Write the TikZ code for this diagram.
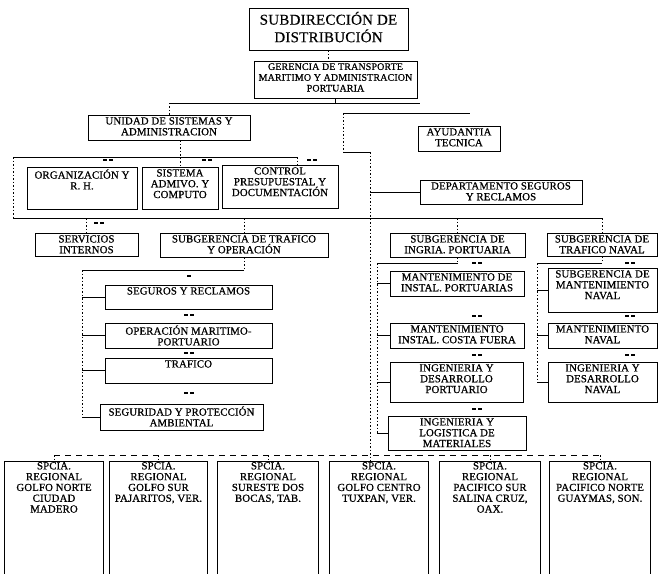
\documentclass[tikz,border=0pt]{standalone}
\usepackage{fontspec}
\setmainfont{Liberation Serif}
\newfontfamily\scanfont{Liberation Serif}[FakeBold=0.7, LetterSpace=1.2]
\newfontfamily\titlefont{Liberation Serif}[FakeBold=0.4, LetterSpace=1.5]
\newcommand\obox[6]{%
  \node[boxsty, minimum width={(#4-#2)*1pt}, minimum height={(#5-#3)*1pt}] (#1) at ({(#2+#4)/2},{(#3+#5)/2}) {};
  \node[txt] (#1-t) at ([yshift=-2.5pt]#1.north) {#6};}
\newcommand\rbox[4]{%
  \node[draw=none, inner sep=0pt, minimum width={(#3-#2)*1pt}, minimum height=120pt, anchor=north] (#1) at ({(#2+#3)/2},461) {};
  \draw[boxline] (#1.south west) -- (#1.north west) -- (#1.north east) -- (#1.south east);
  \node[txt] (#1-t) at ([yshift=-1pt]#1.north) {#4};}
\newcommand\dmk[2]{\draw[dmkline] (#1-5,#2) -- (#1-1,#2) (#1+1,#2) -- (#1+5,#2);}
\newcommand\smk[2]{\draw[dmkline] (#1-2,#2) -- (#1+2,#2);}
\begin{document}
\begin{tikzpicture}[x=1pt,y=-1pt,
  boxsty/.style={draw, line width=0.8pt, inner sep=0pt},
  boxline/.style={line width=0.8pt},
  txt/.style={font=\scanfont\fontsize{10.8}{10.8}\selectfont, align=center, inner sep=0pt, anchor=north},
  smalltxt/.style={txt, font=\scanfont\fontsize{10}{10.8}\selectfont},
  titletxt/.style={font=\titlefont\fontsize{15}{17.5}\selectfont, align=center, inner sep=0pt, anchor=north},
  hline/.style={line width=0.8pt},
  vline/.style={line width=0.8pt, dash pattern=on 1.5pt off 2pt},
  rbar/.style={line width=0.9pt, dash pattern=on 6pt off 5pt},
  dmkline/.style={line width=1.6pt},
]
\useasboundingbox (0,0) rectangle (661,573);
\fill[white] (0,0) rectangle (661,573);
\begin{scope}
\clip (0,0) rectangle (661,573);
% title
\node[boxsty, minimum width=159pt, minimum height=42pt] (sub) at (328.5,29) {};
\node[titletxt] (sub-t) at ([yshift=-4pt]sub.north) {SUBDIRECCIÓN DE\\DISTRIBUCIÓN};
\node[boxsty, minimum width=163pt, minimum height=37pt] (ger) at (335.5,79.5) {};
\node[smalltxt] (ger-t) at ([yshift=-2.5pt]ger.north) {GERENCIA DE TRANSPORTE\\MARITIMO Y ADMINISTRACION\\PORTUARIA};
\obox{uni}{88}{115}{250}{140}{UNIDAD DE SISTEMAS Y\\ADMINISTRACION}
\obox{ayu}{418}{126}{500}{151}{AYUDANTIA\\TECNICA}
\obox{org}{27}{167}{137}{209}{ORGANIZACIÓN Y\\R. H.}
\obox{sis}{142}{167}{218}{209}{SISTEMA\\ADMIVO. Y\\COMPUTO}
\obox{con}{222}{165}{338}{208}{CONTROL\\PRESUPUESTAL Y\\DOCUMENTACIÓN}
\obox{dep}{420}{180}{582}{204}{DEPARTAMENTO SEGUROS\\Y RECLAMOS}
\obox{ser}{35}{233}{138}{256}{SERVICIOS\\INTERNOS}
\obox{sto}{160}{233}{328}{257}{SUBGERENCIA DE TRAFICO\\Y OPERACIÓN}
\obox{sip}{390}{233}{525}{257}{SUBGERENCIA DE\\INGRIA. PORTUARIA}
\obox{stn}{547}{233}{657}{256}{SUBGERENCIA DE\\TRAFICO NAVAL}
\obox{seg}{105}{285}{272}{309}{SEGUROS Y RECLAMOS}
\obox{opm}{105}{323}{272}{348}{OPERACIÓN MARITIMO-\\PORTUARIO}
\obox{tra}{105}{358}{272}{383}{TRAFICO}
\obox{spa}{100}{404}{263}{430}{SEGURIDAD Y PROTECCIÓN\\AMBIENTAL}
\obox{mip}{390}{271}{524}{296}{MANTENIMIENTO DE\\INSTAL. PORTUARIAS}
\obox{mic}{390}{323}{524}{348}{MANTENIMIENTO\\INSTAL. COSTA FUERA}
\obox{idp}{390}{362}{523}{402}{INGENIERIA Y\\DESARROLLO\\PORTUARIO}
\obox{ilm}{388}{416}{526}{450}{INGENIERIA Y\\LOGISTICA DE\\MATERIALES}
\obox{smn}{548}{268}{657}{312}{SUBGERENCIA DE\\MANTENIMIENTO\\NAVAL}
\obox{mna}{548}{323}{657}{348}{MANTENIMIENTO\\NAVAL}
\obox{idn}{548}{362}{657}{402}{INGENIERIA Y\\DESARROLLO\\NAVAL}
\rbox{r1}{5}{103}{SPCIA.\\REGIONAL\\GOLFO NORTE\\CIUDAD\\MADERO}
\rbox{r2}{110}{207}{SPCIA.\\REGIONAL\\GOLFO SUR\\PAJARITOS, VER.}
\rbox{r3}{218}{318}{SPCIA.\\REGIONAL\\SURESTE DOS\\BOCAS, TAB.}
\rbox{r4}{330}{428}{SPCIA.\\REGIONAL\\GOLFO CENTRO\\TUXPAN, VER.}
\rbox{r5}{440}{540}{SPCIA.\\REGIONAL\\PACIFICO SUR\\SALINA CRUZ,\\OAX.}
\rbox{r6}{550}{650}{SPCIA.\\REGIONAL\\PACIFICO NORTE\\GUAYMAS, SON.}
% connectors top
\draw[vline] (sub.south) -- (sub.south |- ger.north);
\coordinate (bar1L) at (169,103);
\coordinate (bar1R) at (420,103);
\draw[hline] (bar1L) -- (bar1R);
\draw[hline] (ger.south) -- (ger.south |- bar1L);
\draw[vline] (uni.north) -- (bar1L);
\coordinate (a1) at (343,113);
\coordinate (a2) at (470,113);
\coordinate (a3) at (343,152);
\coordinate (mv) at (370,152);
\draw[hline] (a1) -- (a2);
\draw[vline] (a1) -- (a3);
\draw[hline] (a3) -- (mv);
\draw[vline] (mv) -- (r4.north -| mv);
\draw[hline] (dep.west -| mv) -- (dep.west);
% row 3
\coordinate (b3) at (13,157);
\coordinate (b3r) at (297,157);
\draw[hline] (b3) -- (b3r);
\draw[vline] (b3r) -- (b3r |- con.north);
\draw[vline] (sis.north |- uni.south) -- (sis.north);
% row 4
\coordinate (b4l) at (13,218);
\coordinate (b4r) at (603,218);
\draw[vline] (b3) -- (b4l);
\draw[hline] (b4l) -- (b4r);
\foreach \n in {ser,sto,sip,stn} \draw[vline] (\n.north |- b4l) -- (\n.north);
% left column
\coordinate (c1) at (82,270);
\draw[vline] (sto.south) -- (sto.south |- c1);
\draw[hline] (sto.south |- c1) -- (c1);
\draw[vline] (c1) -- (c1 |- spa.west);
\foreach \n in {seg,opm,tra,spa} \draw[hline] (c1 |- \n.west) -- (\n.west);
% ingria column
\coordinate (c2) at (377,263);
\draw[vline] (sip.south) -- (sip.south |- c2);
\draw[hline] (sip.south |- c2) -- (c2);
\draw[vline] (c2) -- (c2 |- ilm.west);
\foreach \n in {mip,mic,idp,ilm} \draw[hline] (c2 |- \n.west) -- (\n.west);
% naval column
\coordinate (c3) at (537,263);
\draw[vline] (stn.south) -- (stn.south |- c3);
\draw[hline] (stn.south |- c3) -- (c3);
\draw[vline] (c3) -- (c3 |- idn.west);
\foreach \n in {smn,mna,idn} \draw[hline] (c3 |- \n.west) -- (\n.west);
% regional bar
\coordinate (rb) at (0,455);
\draw[rbar] (r1.north |- rb) -- (r6.north |- rb);
\foreach \n in {r1,r2,r3,r5,r6} \draw[vline] (\n.north |- rb) -- (\n.north);
% marks
\dmk{108}{160}\dmk{207}{160}\dmk{312}{160}
\dmk{99}{223}
\smk{189}{276}\dmk{189}{315}\dmk{189}{353}\dmk{189}{393}
\dmk{477}{263}\dmk{477}{316}\dmk{477}{355}\dmk{477}{409}
\dmk{630}{263}\dmk{630}{316}\dmk{630}{355}
\end{scope}
\end{tikzpicture}
\end{document}
